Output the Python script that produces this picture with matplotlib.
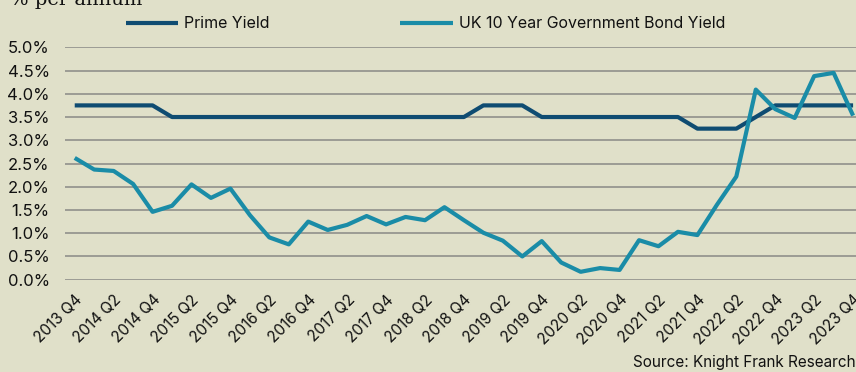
import matplotlib
matplotlib.use("Agg")
import matplotlib.pyplot as plt
from matplotlib.ticker import FuncFormatter, MultipleLocator

quarters = [f"{y} Q{q}" for y in range(2013, 2024) for q in range(1, 5)]
quarters = quarters[3:]  # 2013 Q4 .. 2023 Q4

prime_yield = [3.75, 3.75, 3.75, 3.75, 3.75, 3.5, 3.5, 3.5, 3.5, 3.5,
               3.5, 3.5, 3.5, 3.5, 3.5, 3.5, 3.5, 3.5, 3.5, 3.5,
               3.5, 3.75, 3.75, 3.75, 3.5, 3.5, 3.5, 3.5, 3.5, 3.5,
               3.5, 3.5, 3.25, 3.25, 3.25, 3.5, 3.75, 3.75, 3.75, 3.75, 3.75]
gilt_yield = [2.62, 2.37, 2.34, 2.06, 1.46, 1.59, 2.05, 1.76, 1.96, 1.39,
              0.91, 0.76, 1.25, 1.07, 1.18, 1.37, 1.19, 1.35, 1.28, 1.56,
              1.28, 1.01, 0.84, 0.50, 0.83, 0.37, 0.17, 0.25, 0.21, 0.85,
              0.72, 1.03, 0.96, 1.61, 2.22, 4.09, 3.67, 3.48, 4.38, 4.45, 3.53]
series_names = ["Prime Yield", "UK 10 Year Government Bond Yield"]

BG = "#E0E0C9"
PRIME_C = "#0F4C72"
GILT_C = "#1A8CA7"
FONT = ["Inter", "DejaVu Sans"]

fig = plt.figure(figsize=(8.56, 3.72), dpi=100, facecolor=BG)
ax = fig.add_axes([65/856, 1-279.7/372, 1-65/856, (279.7-47.3)/372], facecolor=BG)

x = list(range(len(quarters)))
ax.plot(x, prime_yield, color=PRIME_C, lw=3, solid_capstyle="butt", label=series_names[0], zorder=3)
ax.plot(x, gilt_yield, color=GILT_C, lw=3, solid_capstyle="butt", label=series_names[1], zorder=4)

ax.set_xlim(-0.5, 40.15)
ax.set_ylim(0, 5)
ax.yaxis.set_major_locator(MultipleLocator(0.5))
ax.yaxis.set_major_formatter(FuncFormatter(lambda v, p: f"{v:.1f}%"))
ax.grid(axis="y", color="#9C9C94", lw=1.4, zorder=1)
ax.set_axisbelow(True)
for s in ax.spines.values():
    s.set_visible(False)

ax.set_xticks(x[::2])
ax.set_xticklabels(quarters[::2], rotation=45, ha="right", rotation_mode="anchor",
                   fontsize=11, family=FONT, color="#111111")
ax.tick_params(axis="x", length=0, pad=9)
ax.tick_params(axis="y", length=0, pad=11, labelsize=12, labelcolor="#111111")
for t in ax.get_yticklabels():
    t.set_family(FONT)

fig.text(10/856, 1-5/372, "% per annum", family=["DejaVu Serif"], fontsize=14,
         va="baseline", ha="left", color="#111111")

leg = fig.legend(loc="center", bbox_to_anchor=(0.497, 1-24/372), ncol=2, frameon=False,
                 handlelength=3.3, columnspacing=8.2, handletextpad=0.35,
                 prop={"family": FONT, "size": 11.5})
for t in leg.get_texts():
    t.set_color("#111111")

fig.text(1.0, 1-362/372, "Source: Knight Frank Research", family=FONT, fontsize=11,
         ha="right", va="center", color="#111111")

fig.savefig("out.png", dpi=100, facecolor=BG)
